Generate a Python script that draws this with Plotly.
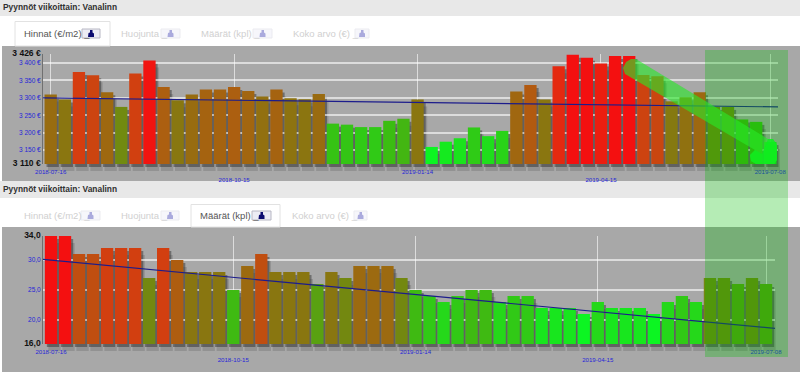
import pandas as pd
import plotly.graph_objects as go

W, H = 800, 372
weeks = pd.date_range("2018-07-16", periods=52, freq="7D")

prices = [3310, 3295, 3374, 3365, 3316, 3274, 3370, 3407, 3331, 3293,
          3310, 3324, 3324, 3331, 3320, 3304, 3324, 3299, 3296, 3311,
          3226, 3223, 3216, 3216, 3234, 3240, 3295, 3159, 3174, 3184,
          3215, 3190, 3205, 3318, 3337, 3295, 3391, 3424, 3415, 3399,
          3420, 3420, 3366, 3362, 3290, 3302, 3316, 3274, 3274, 3238,
          3231, 3173]
counts = [34, 34, 31, 31, 32, 32, 32, 27, 32, 30, 28, 28, 28, 25, 29, 31,
          28, 28, 28, 26, 28, 27, 29, 29, 29, 27, 25, 24, 23, 24, 25, 25,
          23, 24, 24, 22, 22, 22, 21, 23, 22, 22, 22, 21, 23, 24, 23, 27,
          27, 26, 27, 26]
price_trend = [3300, 3274]
count_trend = [30.1, 18.6]

tick_dates = ["2018-07-16", "2018-10-15", "2019-01-14", "2019-04-15", "2019-07-08"]
tick_text = ["2018-07-16", "&nbsp;<br>2018-10-15", "2019-01-14", "&nbsp;<br>2019-04-15", "2019-07-08"]

price_grid = [3150, 3200, 3250, 3300, 3350, 3400]
price_ticks = [3110, 3150, 3200, 3250, 3300, 3350, 3400, 3426]
BOLD = "<b style='color:#111;font-size:8.5px'>%s</b>"
price_labels = [BOLD % "3 110 €", "3 150 €", "3 200 €", "3 250 €",
                "3 300 €", "3 350 €", "3 400 €", BOLD % "3 426 €"]
count_grid = [20, 25, 30]
count_ticks = [16, 20, 25, 30, 34]
count_labels = [BOLD % "16,0", "20,0", "25,0", "30,0", BOLD % "34,0"]

tabs = ["Hinnat (€/m2) _", "Huojunta _", "Määrät (kpl) _", "Koko arvo (€) _"]
title = "Pyynnöt viikoittain: Vanalinn"

FONT = "Liberation Sans, Arial, sans-serif"
BLUE = "#2626d8"
GRID = "rgba(255,255,255,0.6)"
SCALE = [[0, "#0cf522"], [0.3, "#3cbc12"], [0.5, "#807c10"], [0.7, "#b05c10"], [0.87, "#d83a10"], [1, "#f41010"]]


def px(x):
    return x / W


def py(y):
    return 1 - y / H


def rect(x0, y0, x1, y1, fill, line=None, layer="below"):
    return dict(type="rect", xref="paper", yref="paper", x0=px(x0), x1=px(x1), y0=py(y0), y1=py(y1),
                fillcolor=fill, line=dict(width=1 if line else 0, color=line or "rgba(0,0,0,0)"), layer=layer)


def poly(points, fill):
    d = "M " + " L ".join(f"{px(x):.5f},{py(y):.5f}" for x, y in points) + " Z"
    return dict(type="path", xref="paper", yref="paper", path=d, fillcolor=fill,
                line=dict(width=0), layer="above")


fig = go.Figure()
layout = {}
counter = [0]


def axis_pair(xdom, ydom, xrange, yrange):
    counter[0] += 1
    n = counter[0]
    sx = "" if n == 1 else str(n)
    layout[f"xaxis{sx}"] = dict(domain=[px(xdom[0]), px(xdom[1])], range=xrange, type="date",
                                anchor=f"y{sx}", visible=False, fixedrange=True, automargin=False)
    layout[f"yaxis{sx}"] = dict(domain=[py(ydom[0]), py(ydom[1])], range=yrange,
                                anchor=f"x{sx}", visible=False, fixedrange=True, automargin=False)
    return sx


def panel(values, trend, yrange, grid, ticks, labels, cmin, cmax, x_first, pitch, xdom, ydom):
    day = pitch / 7
    x0 = weeks[0] + pd.Timedelta(days=(xdom[0] - x_first) / day)
    x1 = weeks[0] + pd.Timedelta(days=(xdom[1] - x_first) / day)
    xr = [x0.isoformat(), x1.isoformat()]
    heights = [v - yrange[0] for v in values]
    width = 12.3 / pitch * 7 * 86400000
    # soft drop shadow: two offset layers of the same bars
    for dx, dy, alpha in [(3.5, 7, 0.16), (2, 3, 0.42)]:
        s = axis_pair((xdom[0] + dx, xdom[1] + dx), (ydom[0] + dy, ydom[1] + dy), xr, yrange)
        fig.add_trace(go.Bar(x=weeks, y=heights, base=yrange[0], width=width, xaxis=f"x{s}", yaxis=f"y{s}",
                             marker=dict(color=f"rgba(30,30,30,{alpha})", line_width=0),
                             hoverinfo="skip", showlegend=False))
    s = axis_pair(xdom, ydom, xr, yrange)
    layout[f"xaxis{s}"].update(visible=True, showline=False, showgrid=True, gridcolor=GRID, gridwidth=1,
                               zeroline=False, ticks="outside", ticklen=2, tickcolor="rgba(0,0,0,0)",
                               tickmode="array", tickvals=tick_dates,
                               ticktext=tick_text, tickangle=0,
                               tickfont=dict(family=FONT, size=6.1, color=BLUE))
    layout[f"yaxis{s}"].update(visible=True, showgrid=False, zeroline=False, showline=True, linecolor="#707070",
                               linewidth=1, ticks="", tickmode="array", tickvals=ticks, ticktext=labels,
                               tickfont=dict(family=FONT, size=6.5, color=BLUE),
                               minor=dict(tickmode="array", tickvals=grid, showgrid=True,
                                          gridcolor=GRID, gridwidth=1.5, ticks=""))
    fig.add_trace(go.Bar(x=weeks, y=heights, base=yrange[0], width=width, xaxis=f"x{s}", yaxis=f"y{s}",
                         marker=dict(color=values, colorscale=SCALE, cmin=cmin, cmax=cmax, line_width=0),
                         showlegend=False))
    fig.add_trace(go.Scatter(x=xr, y=trend, mode="lines", xaxis=f"x{s}", yaxis=f"y{s}",
                             line=dict(color="#1c1c8c", width=1.2), showlegend=False, hoverinfo="skip"))


panel(prices, price_trend, [3110, 3426], price_grid, price_ticks, price_labels, 3160, 3410,
      50.7, 14.11, (43, 778), (164, 54))
panel(counts, count_trend, [16, 34], count_grid, count_ticks, count_labels, 21, 34,
      51, 14.02, (43, 775), (344, 236))

shapes = [
    rect(0, 0, W, 16, "#e8e8e8"),
    rect(0, 181, W, 198, "#e8e8e8"),
    rect(2, 46, W, 181, "#a8a8a8"),
    rect(2, 227, W, 372, "#a8a8a8"),
    rect(15, 21.5, 110, 46, "#ffffff", "#e2e2e2"),
    rect(191, 204.5, 280, 227, "#ffffff", "#e2e2e2"),
]

annotations = []


def text(x, y, s, color, size=9.5):
    annotations.append(dict(xref="paper", yref="paper", x=px(x), y=py(y), xanchor="left", yanchor="middle",
                            text=s, showarrow=False, font=dict(family=FONT, size=size, color=color),
                            borderpad=0, borderwidth=0))


text_x = [[24, 121, 201, 293], [24, 121, 200, 292]]
btn_x = [[(82, 100), (161, 180), (253, 272), (355, 369)], [(81, 100), (161, 179), (252, 271), (354, 367)]]
for row, (yc, active) in enumerate([(33.5, 0), (215.5, 2)]):
    for i, label in enumerate(tabs):
        on = i == active
        text(text_x[row][i], yc, label, "#555555" if on else "#d0d0d0")
        b0, b1 = btn_x[row][i]
        shapes.append(rect(b0, yc - 4.5, b1, yc + 4.5, "#ececf4" if on else "#f6f6fb",
                           "#b8b8c4" if on else "#ebebf0"))
        c = (b0 + b1) / 2
        glyph = "#0c0c70" if on else "#aaaadd"
        shapes.append(poly([(c - 3, yc + 3.5), (c - 2.5, yc - 0.5), (c - 1, yc - 1), (c - 1, yc - 3.5),
                            (c + 1.5, yc - 3.5), (c + 1.5, yc - 1), (c + 3, yc), (c + 3, yc + 3.5)], glyph))

text(3, 7, f"<b>{title}</b>", "#303030", 8.4)
text(3, 189, f"<b>{title}</b>", "#303030", 8.4)

# green highlight band and arrow
shapes.append(rect(705, 50, 788, 357, "rgba(0,190,0,0.29)", None, layer="above"))
shapes.append(poly([(755, 150), (625, 74), (623, 68), (626, 62), (631, 59), (636, 59), (768, 139), (773, 139),
                    (777, 145), (777, 160), (774, 164), (756, 164), (751, 161), (750, 155)],
                   "rgba(40,232,40,0.62)"))
shapes.append(poly([(768, 139), (773, 139), (777, 145), (777, 160), (774, 164), (756, 164), (751, 161), (750, 155),
                    (755, 150), (762, 154)], "rgba(10,240,30,0.7)"))

layout.update(width=W, height=H, margin=dict(l=0, r=0, t=0, b=0, pad=0, autoexpand=False), paper_bgcolor="#ffffff",
              plot_bgcolor="rgba(0,0,0,0)", barmode="overlay", showlegend=False,
              shapes=shapes, annotations=annotations, font=dict(family=FONT))
fig.update_layout(**layout)
fig.write_html("out.html", config={"displayModeBar": False},
               post_script="document.body.style.margin='0';document.documentElement.style.overflow='hidden';")
